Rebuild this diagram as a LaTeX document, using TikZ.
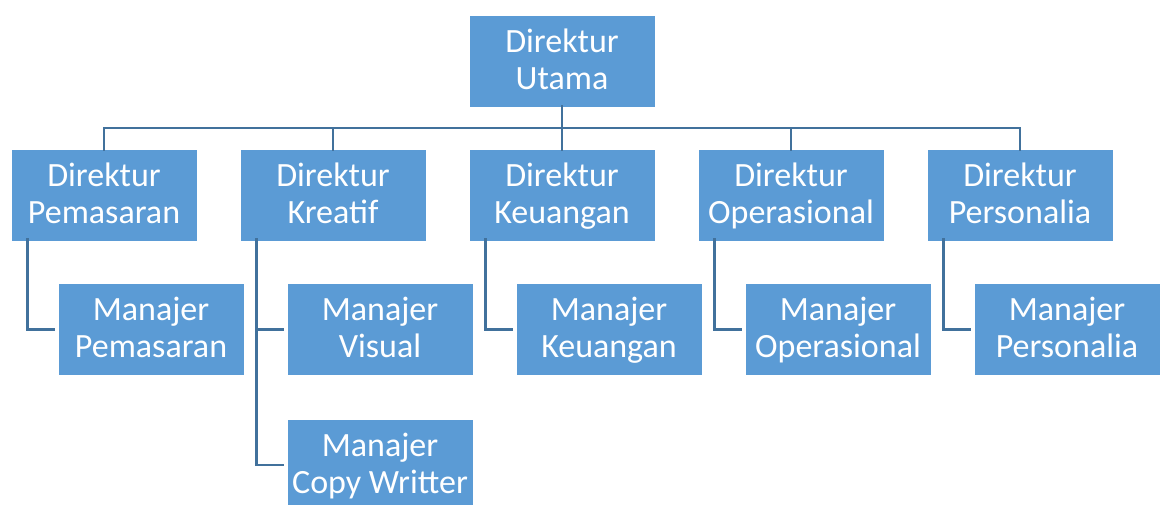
\documentclass[tikz,border=0pt]{standalone}
\usepackage{fontspec}
\setmainfont{Carlito}
\definecolor{boxblue}{HTML}{5B9BD5}
\definecolor{lineblue}{HTML}{41719C}
\newcommand{\lnstrut}{\rule[-9pt]{0pt}{37pt}}
\newcommand{\twol}[2]{#1\lnstrut\\#2\lnstrut}
\begin{document}
\begin{tikzpicture}[x=1pt,y=-1pt,
  orgbox/.style={fill=boxblue,draw=white,line width=0.8pt,minimum width=186pt,minimum height=92pt,
    inner sep=0pt,text=white,align=center,font=\fontsize{34pt}{37pt}\selectfont},
  conn/.style={draw=lineblue,line width=2.6pt}]
\useasboundingbox (0,0) rectangle (1163,504);
\begin{scope}
\clip (0,0) rectangle (1163,504);
\node[orgbox] (top) at (562,61) {\twol{Direktur}{Utama}};
\node[orgbox] (d1) at (104,195) {\twol{Direktur}{Pemasaran}};
\node[orgbox] (d2) at (333,195) {\twol{Direktur}{Kreatif}};
\node[orgbox] (d3) at (562,195) {\twol{Direktur}{Keuangan}};
\node[orgbox] (d4) at (791,195) {\twol{Direktur}{Operasional}};
\node[orgbox] (d5) at (1020,195) {\twol{Direktur}{Personalia}};
\node[orgbox] (m1) at (151,329.5) {\twol{Manajer}{Pemasaran}};
\node[orgbox] (m2) at (380,329.5) {\twol{Manajer}{Visual}};
\node[orgbox] (m6) at (380,465) {\twol{Manajer}{Copy Writter}};
\node[orgbox] (m3) at (609,329.5) {\twol{Manajer}{Keuangan}};
\node[orgbox] (m4) at (838,329.5) {\twol{Manajer}{Operasional}};
\node[orgbox] (m5) at (1067,329.5) {\twol{Manajer}{Personalia}};
\end{scope}
\coordinate (bus) at (0,128);
\draw[conn] ([yshift=2pt]top.south) -- (top.south |- bus);
\draw[conn] ([yshift=-2pt]d1.north) |- (d5.north |- bus) -- ([yshift=-2pt]d5.north);
\foreach \d in {d2,d3,d4}{
  \draw[conn] (\d.north |- bus) -- ([yshift=-2pt]\d.north);
}
\foreach \d/\m in {d1/m1,d2/m2,d3/m3,d4/m4,d5/m5}{
  \draw[conn] ([xshift=17pt,yshift=3pt]\d.south west) |- ([xshift=-3pt]\m.west);
}
\draw[conn] ([xshift=17pt,yshift=3pt]d2.south west) |- ([xshift=-3pt]m6.west);
\end{tikzpicture}
\end{document}
